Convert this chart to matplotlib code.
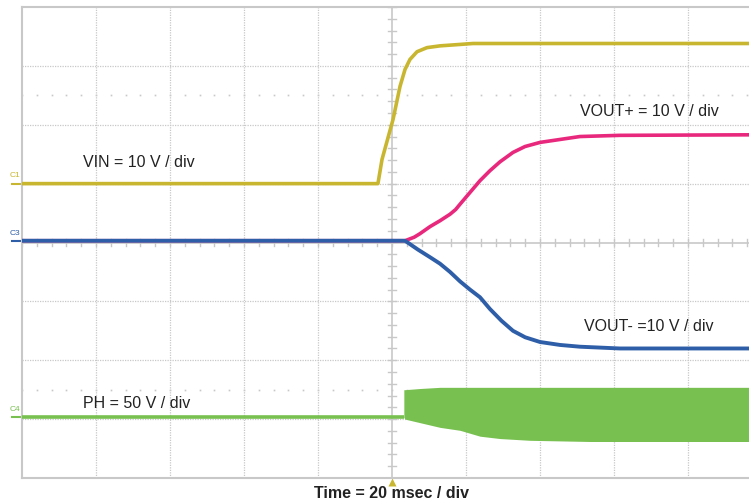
import numpy as np
import matplotlib
matplotlib.use("Agg")
import matplotlib.pyplot as plt

plt.rcParams['font.family'] = ['Liberation Sans', 'DejaVu Sans']

# time axis in scope divisions (20 msec / div), trigger at 0
# traces in vertical divisions
vin_t = [-5.0, -0.19, -0.135, 0.014, 0.108, 0.176, 0.243, 0.338, 0.473, 0.649, 1.095, 5.0]
vin_v = [1.00, 1.00, 1.41, 2.09, 2.65, 2.94, 3.11, 3.24, 3.31, 3.34, 3.38, 3.38]

voutp_t = [-5.0, 0.176, 0.30, 0.378, 0.514, 0.649, 0.784, 0.86, 0.919, 1.054, 1.189, 1.324,
           1.459, 1.635, 1.797, 2.0, 2.27, 2.54, 3.08, 5.0]
voutp_v = [0.03, 0.03, 0.09, 0.15, 0.27, 0.37, 0.48, 0.56, 0.65, 0.85, 1.05, 1.22,
           1.37, 1.53, 1.63, 1.70, 1.75, 1.80, 1.82, 1.83]

voutn_t = [-5.0, 0.176, 0.35, 0.514, 0.649, 0.784, 0.919, 1.054, 1.189, 1.324, 1.48,
           1.635, 1.80, 2.0, 2.27, 2.54, 3.08, 5.0]
voutn_v = [0.03, 0.03, -0.12, -0.25, -0.36, -0.50, -0.66, -0.80, -0.93, -1.13, -1.33,
           -1.50, -1.61, -1.69, -1.74, -1.77, -1.80, -1.80]

ph_base_t = [-5.0, 0.16]
ph_base_v = [-2.97, -2.97]
ph_t = [0.16, 0.176, 0.378, 0.649, 0.919, 1.189, 1.459, 1.865, 2.676, 5.0]
ph_top = [-2.50, -2.50, -2.48, -2.46, -2.46, -2.46, -2.46, -2.46, -2.46, -2.46]
ph_bot = [-2.97, -3.00, -3.06, -3.14, -3.19, -3.29, -3.33, -3.36, -3.38, -3.38]

labels = ["VIN = 10 V / div", "VOUT+ = 10 V / div", "VOUT- =10 V / div", "PH = 50 V / div"]

YELLOW = "#c9b630"
PINK = "#e8287c"
BLUE = "#2f5ea8"
GREEN = "#78c150"
GRID = "#c8c8c8"

fig = plt.figure(figsize=(7.49, 5.04), dpi=100)
ax = fig.add_axes([22 / 749, 26 / 504, 740 / 749, 471 / 504])
ax.set_xlim(-5, 5)
ax.set_ylim(-4, 4)
ax.set_xticks([])
ax.set_yticks([])
for s in ax.spines.values():
    s.set_color(GRID)
    s.set_linewidth(1.5)

# graticule
for x in range(-4, 5):
    if x != 0:
        ax.axvline(x, color=GRID, lw=0.9, ls=(0, (1, 1)), zorder=1)
for y in range(-3, 4):
    if y != 0:
        ax.axhline(y, color=GRID, lw=0.9, ls=(0, (1, 1)), zorder=1)
ax.axvline(0, color=GRID, lw=1.2, zorder=1)
ax.axhline(0, color=GRID, lw=1.2, zorder=1)
for m in np.arange(-5, 5.01, 0.2):
    ax.plot([m, m], [-0.06, 0.06], color=GRID, lw=1.0, zorder=1)
for m in np.arange(-4, 4.01, 0.2):
    ax.plot([-0.05, 0.05], [m, m], color=GRID, lw=1.0, zorder=1)
dots = np.arange(-5, 5.01, 0.2)
for yy in (2.5, -2.5):
    ax.plot(dots, [yy] * len(dots), ls='none', marker='s', ms=1.2,
            color=GRID, mec='none', zorder=1)

# traces
ax.plot(vin_t, vin_v, color=YELLOW, lw=2.6, zorder=3, solid_capstyle='butt')
ax.plot(voutp_t, voutp_v, color=PINK, lw=2.6, zorder=3, solid_capstyle='butt')
ax.plot(voutn_t, voutn_v, color=BLUE, lw=2.8, zorder=4, solid_capstyle='butt')
ax.plot(ph_base_t, ph_base_v, color=GREEN, lw=2.6, zorder=3, solid_capstyle='butt')
ax.fill_between(ph_t, ph_bot, ph_top, color=GREEN, lw=0, zorder=3)

# trace labels
tkw = dict(fontsize=11.5, color="#222222", va='center', ha='left', zorder=5)
ax.text(-4.18, 1.36, labels[0], **tkw)
ax.text(2.54, 2.23, labels[1], **tkw)
ax.text(2.6, -1.43, labels[2], **tkw)
ax.text(-4.18, -2.73, labels[3], **tkw)

# channel markers on the left edge
for name, lvl, col in [("C1", 1.0, YELLOW), ("C3", 0.03, BLUE), ("C4", -2.97, GREEN)]:
    ax.plot([-5.14, -5.0], [lvl, lvl], color=col, lw=1.5, clip_on=False)
    ax.text(-5.17, lvl + 0.13, name, fontsize=6, color=col, ha='left',
            va='center', clip_on=False)

# trigger marker
ax.plot([0], [-4.07], marker='^', ms=6, color=YELLOW, mec='none', clip_on=False)

fig.text(392 / 749, 1 - 494 / 504, "Time = 20 msec / div", fontsize=11.5,
         fontweight='bold', color="#222222", ha='center', va='center')

fig.savefig("out.png", dpi=100)
